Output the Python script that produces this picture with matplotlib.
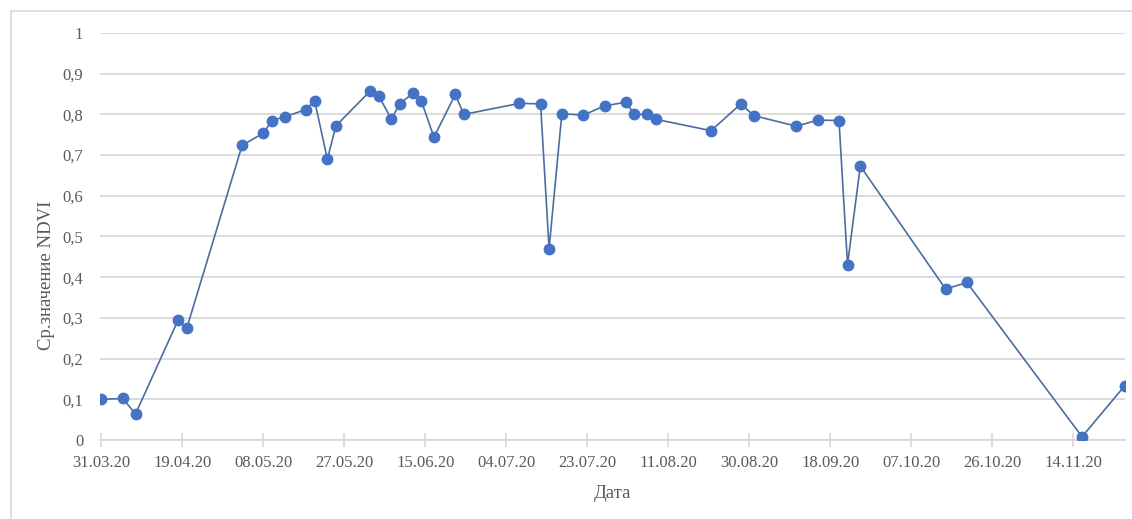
import matplotlib
matplotlib.use("Agg")
import matplotlib.pyplot as plt
import matplotlib.dates as mdates
from matplotlib.patches import Rectangle
from matplotlib.ticker import FuncFormatter, MultipleLocator
import pandas as pd

# dates of the observations (2020) and mean NDVI
dates = ["31.03", "05.04", "08.04", "18.04", "20.04", "03.05", "08.05", "10.05",
         "13.05", "18.05", "20.05", "23.05", "25.05", "02.06", "04.06", "07.06",
         "09.06", "12.06", "14.06", "17.06", "22.06", "24.06", "07.07", "12.07",
         "14.07", "17.07", "22.07", "27.07", "01.08", "03.08", "06.08", "08.08",
         "21.08", "28.08", "31.08", "10.09", "15.09", "20.09", "22.09", "25.09",
         "15.10", "20.10", "16.11", "26.11"]
ndvi = [0.100, 0.102, 0.064, 0.295, 0.274, 0.724, 0.754, 0.785,
        0.794, 0.812, 0.834, 0.690, 0.772, 0.857, 0.846, 0.789,
        0.826, 0.852, 0.834, 0.744, 0.849, 0.800, 0.827, 0.826,
        0.470, 0.802, 0.798, 0.821, 0.830, 0.800, 0.800, 0.788,
        0.760, 0.826, 0.797, 0.771, 0.786, 0.785, 0.431, 0.673,
        0.371, 0.387, 0.008, 0.133]

x = pd.to_datetime([d + ".2020" for d in dates], format="%d.%m.%Y")
start = pd.Timestamp("2020-03-31")
tick_dates = pd.date_range(start, periods=13, freq="19D")

grey = "#595959"
plt.rcParams["font.family"] = ["Liberation Serif", "DejaVu Serif"]

fig = plt.figure(figsize=(11.32, 5.19), dpi=100)
ax = fig.add_axes([100 / 1132, 1 - 440 / 519, 1025 / 1132, 407 / 519])

# outer frame of the chart area
fig.patches.append(Rectangle((11 / 1132, -0.05), 1.1, 1 - 11 / 519 + 0.05,
                             transform=fig.transFigure, fill=False,
                             edgecolor="#d9d9d9", linewidth=1.2))

ax.plot(x, ndvi, color="#4C6D9E", linewidth=1.2, marker="o", markersize=7.5,
        markerfacecolor="#4472C4", markeredgecolor="#4472C4", zorder=3)

ax.set_ylim(0, 1)
ax.set_xlim(start - pd.Timedelta(hours=8), x[-1] + pd.Timedelta(hours=2))
ax.yaxis.set_major_locator(MultipleLocator(0.1))
ax.yaxis.set_major_formatter(FuncFormatter(
    lambda v, p: "0" if abs(v) < 1e-9 else ("1" if abs(v - 1) < 1e-9 else f"{v:.1f}".replace(".", ","))))
ax.set_xticks(tick_dates)
ax.xaxis.set_major_formatter(mdates.DateFormatter("%d.%m.%y"))

ax.grid(axis="y", color="#d9d9d9", linewidth=1.3)
ax.set_axisbelow(True)
for s in ["top", "right", "left"]:
    ax.spines[s].set_visible(False)
ax.spines["bottom"].set_color("#d9d9d9")
ax.spines["bottom"].set_linewidth(1.3)

ax.tick_params(axis="y", length=0, pad=12, labelsize=12, labelcolor=grey)
ax.tick_params(axis="x", direction="inout", length=10, width=1.2, color="#d9d9d9",
               pad=6, labelsize=12, labelcolor=grey)

fig.text(612 / 1132, 1 - 493 / 519, "Дата", ha="center", va="center",
         fontsize=13.5, color=grey)
fig.text(47 / 1132, 1 - 275 / 519, "Ср.значение NDVI", ha="center", va="center",
         rotation=90, fontsize=13.5, color=grey)

fig.savefig("out.png", dpi=100, facecolor="white")
